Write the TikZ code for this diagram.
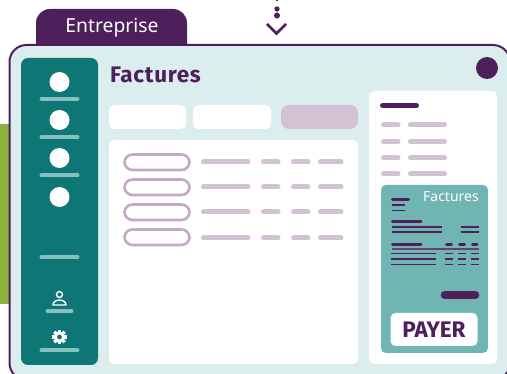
\documentclass[tikz,border=0pt]{standalone}
\usepackage{fontspec}
\setmainfont{Noto Sans}
\newfontfamily\headfont{Fira Sans}[LetterSpace=3]
\newfontfamily\payfont{Fira Sans}
\definecolor{plum}{HTML}{4D1F5B}
\definecolor{panel}{HTML}{DCEDEE}
\definecolor{teal}{HTML}{0E7675}
\definecolor{tealsoft}{HTML}{71B5B2}
\definecolor{pinkbar}{HTML}{D3C1D4}
\definecolor{pinkline}{HTML}{C3A9C4}
\definecolor{leaf}{HTML}{8FB33F}
\tikzset{
  bar/.style={line cap=round,line width=#1},
  pinkb/.style={bar=5pt,draw=pinkbar},
  softb/.style={bar=4pt,draw=tealsoft!85!white},
  inkb/.style={bar=#1,draw=plum},
  pillb/.style={draw=pinkline,line width=2.6pt,fill=white,rounded corners=8pt},
}
\begin{document}
\begin{tikzpicture}[x=1pt,y=-1pt]
\useasboundingbox (0,0) rectangle (507,374);
\begin{scope}
\clip (0,0) rectangle (507,374);
\fill[leaf] (0,124) rectangle (12,304);
% tab
\fill[plum,rounded corners=14pt] (36,9) rectangle (187,70);
% main panel
\draw[plum,line width=2pt,fill=panel,rounded corners=17pt] (9.5,45) rectangle (510,380);
\node[text=white,font=\fontsize{19.3}{21}\selectfont,anchor=center] (tabtext) at (112,28) {Entreprise};
% sidebar
\fill[teal,rounded corners=7pt] (21,58) rectangle (98,365);
\foreach \cy/\nm in {82/a,120/b,158/c,197/d} \fill[white] (59.5,\cy) circle (10);
\foreach \cy in {98.7,137,175.5,257,350.5} \draw[softb] (41.5,\cy) -- (77.5,\cy);
\draw[softb] (47.5,311) -- (71.5,311);
% person
\draw[white,line width=1.4pt] (59.5,294.5) circle (3);
\draw[white,line width=1.4pt,line join=round] (53,305) .. controls (53,298.5) and (66,298.5) .. (66,305) -- cycle;
% gear
\fill[white,even odd rule] (59.5,337) circle (5.6) (59.5,337) circle (2.6);
\foreach \a in {0,45,...,315} \fill[white,rotate around={\a:(59.5,337)}] (57.9,329.6) rectangle (61.1,333);
% heading
\node[text=plum,font=\headfont\bfseries\fontsize{22.5}{24}\selectfont,anchor=west,inner sep=0pt] (title) at (110,75) {Factures};
\fill[plum] (487,68) circle (11);
% buttons
\fill[white,rounded corners=5pt] (109,105) rectangle (186,129);
\fill[white,rounded corners=5pt] (193,105) rectangle (271,129);
\fill[pinkbar,rounded corners=8pt] (281,105) rectangle (358,129);
% main white
\fill[white,rounded corners=5pt] (109,140) rectangle (358,364);
\foreach \ya/\yb/\ym in {154.5/170/162,179.5/195/187,204.5/220/212,229.5/245/238}{
  \draw[pillb] (124.5,\ya) rectangle (189.5,\yb);
  \draw[pinkb] (203.5,\ym) -- (248,\ym);
  \draw[pinkb] (263.5,\ym) -- (278,\ym);
  \draw[pinkb] (293.5,\ym) -- (308,\ym);
  \draw[pinkb] (320.5,\ym) -- (341,\ym);
}
% right panel
\fill[white,rounded corners=5pt] (369,91) rectangle (497,364);
\draw[inkb=5pt] (382.5,105.5) -- (416.5,105.5);
\foreach \ym in {125,141.5,158,174}{
  \draw[pinkb] (383.5,\ym) -- (398,\ym);
  \draw[pinkb] (410.5,\ym) -- (444.5,\ym);
}
% invoice card
\fill[tealsoft,rounded corners=5pt] (381,185) rectangle (488,353);
\node[text=white,font=\fontsize{14}{16}\selectfont,anchor=east,inner sep=0pt] (cardtitle) at (479,197) {Factures};
\draw[inkb=3pt] (392.5,199.3) -- (408.5,199.3);
\draw[plum,line width=1.5pt] (392,205) -- (405,205) (392,210.7) -- (405,210.7);
\draw[inkb=3pt] (392.5,221.7) -- (421,221.7);
\draw[plum,line width=1.7pt] (392,227) -- (442,227) (392,232) -- (442,232) (461,227) -- (479,227) (461,232) -- (479,232);
\draw[inkb=3pt] (392.5,244.5) -- (421,244.5);
\foreach \xa/\xb in {446.5/451.5,459.5/464.5,472.5/477}
  \draw[inkb=3pt] (\xa,244.5) -- (\xb,244.5);
\draw[plum!85!white,line width=1.2pt] (392,249) -- (479,249);
\foreach \ym in {253.5,259,264.5}{
  \draw[plum,line width=1.7pt] (391,\ym) -- (436,\ym);
  \draw[plum,line width=1.7pt] (445,\ym) -- (453,\ym) (458,\ym) -- (466,\ym) (471,\ym) -- (479,\ym);
}
\draw[inkb=7.5pt] (444.5,295) -- (475.5,295);
\fill[white,rounded corners=5pt] (390.5,313) rectangle (477.5,346);
\node[text=plum,font=\payfont\bfseries\fontsize{22.5}{24}\selectfont,inner sep=0pt] (pay) at (434,329.5) {PAYER};
% arrow
\fill[plum] (277,0) circle (1.4) (277,9) circle (2.7) (277,15.5) circle (3);
\draw[plum,line width=2.5pt] (267,24) -- (276.5,33.5) -- (286,24);
\end{scope}
\end{tikzpicture}
\end{document}
